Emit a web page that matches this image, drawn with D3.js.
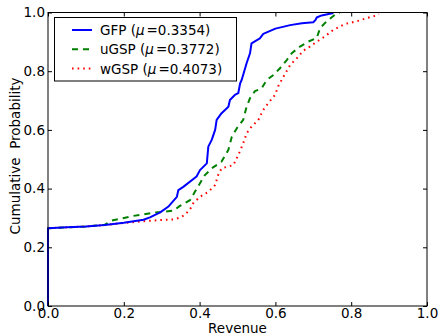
<!DOCTYPE html>
<html>
<head>
<meta charset="utf-8">
<script src="https://cdn.jsdelivr.net/npm/d3@7"></script>
<style>
  body { margin: 0; background: #fff; }
  svg { display: block; font-family: "DejaVu Sans", sans-serif; }
  text { white-space: pre; }
</style>
</head>
<body>
<svg id="chart" width="438" height="335"></svg>
<script>
// ---- data (x = revenue, y = cumulative probability) ----
const seriesNames = ["GFP", "uGSP", "wGSP"];
const seriesMeans = ["0.3354", "0.3772", "0.4073"];

const gfpX = [0, 0, 0.05, 0.10, 0.15, 0.20, 0.252, 0.269, 0.296, 0.317, 0.340, 0.344, 0.357, 0.392, 0.401, 0.419, 0.423, 0.432, 0.441, 0.445, 0.458, 0.476, 0.480, 0.493, 0.502, 0.507, 0.511, 0.524, 0.533, 0.537, 0.559, 0.568, 0.600, 0.639, 0.670, 0.700, 0.706, 0.709, 0.722, 0.753];
const gfpY = [0, 0.265, 0.268, 0.271, 0.276, 0.284, 0.294, 0.302, 0.319, 0.338, 0.372, 0.395, 0.406, 0.441, 0.463, 0.486, 0.543, 0.566, 0.600, 0.634, 0.657, 0.679, 0.702, 0.719, 0.725, 0.759, 0.770, 0.827, 0.861, 0.895, 0.912, 0.927, 0.945, 0.957, 0.963, 0.967, 0.975, 0.983, 0.990, 0.998];

const ugspX = [0, 0, 0.05, 0.10, 0.15, 0.168, 0.225, 0.252, 0.278, 0.304, 0.331, 0.348, 0.375, 0.388, 0.401, 0.414, 0.432, 0.458, 0.476, 0.485, 0.498, 0.515, 0.524, 0.533, 0.546, 0.564, 0.577, 0.595, 0.612, 0.630, 0.643, 0.665, 0.687, 0.709, 0.718, 0.735, 0.757, 0.770];
const ugspY = [0, 0.265, 0.268, 0.271, 0.277, 0.291, 0.307, 0.312, 0.318, 0.321, 0.325, 0.341, 0.361, 0.390, 0.418, 0.446, 0.469, 0.492, 0.532, 0.577, 0.605, 0.634, 0.679, 0.708, 0.732, 0.742, 0.770, 0.787, 0.810, 0.838, 0.861, 0.884, 0.901, 0.913, 0.947, 0.970, 0.992, 0.998];

const wgspX = [0, 0, 0.05, 0.10, 0.15, 0.20, 0.252, 0.300, 0.331, 0.348, 0.361, 0.375, 0.383, 0.401, 0.423, 0.441, 0.449, 0.458, 0.489, 0.502, 0.515, 0.524, 0.537, 0.555, 0.568, 0.581, 0.599, 0.608, 0.621, 0.639, 0.660, 0.674, 0.691, 0.709, 0.731, 0.753, 0.784, 0.815, 0.841, 0.867, 0.873];
const wgspY = [0, 0.265, 0.268, 0.271, 0.276, 0.283, 0.289, 0.293, 0.295, 0.301, 0.310, 0.330, 0.350, 0.372, 0.389, 0.412, 0.446, 0.469, 0.480, 0.514, 0.554, 0.588, 0.611, 0.634, 0.668, 0.691, 0.719, 0.750, 0.781, 0.821, 0.849, 0.870, 0.884, 0.900, 0.919, 0.941, 0.961, 0.970, 0.981, 0.990, 0.995];

const xTicks = [0, 0.2, 0.4, 0.6, 0.8, 1.0];
const yTicks = [0, 0.2, 0.4, 0.6, 0.8, 1.0];

// ---- layout ----
const svg = d3.select("#chart");
const L = 48, R = 427, T = 12.5, B = 306;
const x = d3.scaleLinear().domain([0, 1]).range([L, R]);
const y = d3.scaleLinear().domain([0, 1]).range([B, T]);

const series = [
  { name: seriesNames[0], mean: seriesMeans[0], xs: gfpX, ys: gfpY, color: "#0000ff", dash: null },
  { name: seriesNames[1], mean: seriesMeans[1], xs: ugspX, ys: ugspY, color: "#008000", dash: "6,5" },
  { name: seriesNames[2], mean: seriesMeans[2], xs: wgspX, ys: wgspY, color: "#ff0000", dash: "1.6,4" }
];

svg.append("clipPath").attr("id", "clip")
  .append("rect").attr("x", L - 2).attr("y", T - 2).attr("width", R - L + 4).attr("height", B - T + 4);

const line = d3.line().x(d => x(d[0])).y(d => y(d[1]));

// draw in reverse so blue is on top
const plot = svg.append("g").attr("clip-path", "url(#clip)");
series.slice().reverse().forEach(s => {
  const pts = s.xs.map((v, i) => [v, s.ys[i]]);
  plot.append("path")
    .attr("d", line(pts))
    .attr("fill", "none")
    .attr("stroke", s.color)
    .attr("stroke-width", 2)
    .attr("stroke-linejoin", "round")
    .attr("stroke-dasharray", s.dash);
});

// ---- axes (ticks inside on all four sides) ----
const tickLen = 4;
const fmt = d3.format(".1f");
const axBottom = d3.axisBottom(x).tickValues(xTicks).tickSize(-tickLen).tickPadding(2.5).tickFormat(fmt);
const axTop = d3.axisTop(x).tickValues(xTicks).tickSize(-tickLen).tickFormat("");
const axLeft = d3.axisLeft(y).tickValues(yTicks).tickSize(-tickLen).tickPadding(3).tickFormat(fmt);
const axRight = d3.axisRight(y).tickValues(yTicks).tickSize(-tickLen).tickFormat("");

function styleAxis(g) {
  g.select(".domain").remove();
  g.selectAll(".tick line").attr("stroke", "#000").attr("stroke-width", 1);
  g.selectAll(".tick text").attr("fill", "#000").style("font-size", "13.5px")
    .style("font-family", "'DejaVu Sans', sans-serif");
}
svg.append("g").attr("transform", `translate(0,${B})`).call(axBottom).call(styleAxis);
svg.append("g").attr("transform", `translate(0,${T})`).call(axTop).call(styleAxis);
svg.append("g").attr("transform", `translate(${L},0)`).call(axLeft).call(styleAxis);
svg.append("g").attr("transform", `translate(${R},0)`).call(axRight).call(styleAxis);

// frame
svg.append("rect").attr("x", L).attr("y", T).attr("width", R - L).attr("height", B - T)
  .attr("fill", "none").attr("stroke", "#000").attr("stroke-width", 1);

// axis labels
svg.append("text").attr("x", (L + R) / 2).attr("y", 333)
  .attr("text-anchor", "middle").style("font-size", "13.5px").text("Revenue");
svg.append("text").attr("transform", `translate(20,156) rotate(-90)`)
  .attr("text-anchor", "middle").style("font-size", "13.5px").text("Cumulative  Probability");

// ---- legend ----
const lg = svg.append("g");
lg.append("rect").attr("x", 54.5).attr("y", 17.5).attr("width", 182).attr("height", 63.5)
  .attr("fill", "#fff").attr("stroke", "#000").attr("stroke-width", 1);
const rowY = [30, 49.3, 68.5];
series.forEach((s, i) => {
  lg.append("line").attr("x1", 72).attr("x2", 92).attr("y1", rowY[i]).attr("y2", rowY[i])
    .attr("stroke", s.color).attr("stroke-width", 2).attr("stroke-dasharray", s.dash);
  const t = lg.append("text").attr("x", 100).attr("y", rowY[i] + 5).style("font-size", "13.5px");
  t.append("tspan").text(s.name + " (");
  t.append("tspan").attr("font-style", "italic").text("μ");
  t.append("tspan").attr("dx", 2).text("=");
  t.append("tspan").text(s.mean + ")");
});
</script>
</body>
</html>
